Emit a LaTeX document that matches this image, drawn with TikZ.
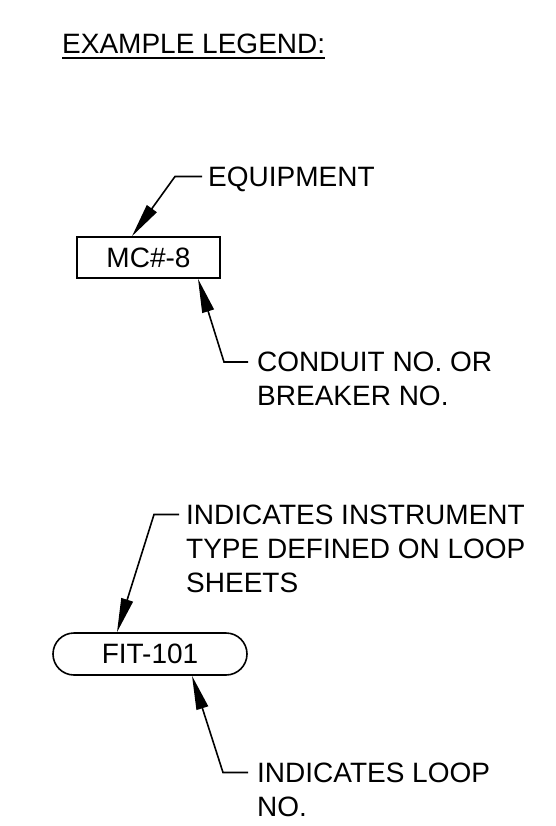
\documentclass[tikz,border=0pt]{standalone}
\usepackage{fontspec}
\setmainfont{Liberation Sans}
\usetikzlibrary{arrows.meta}

\begin{document}
\begin{tikzpicture}[x=1pt, y=-1pt,
    lbl/.style={font=\fontsize{28}{34}\selectfont, inner sep=0pt, anchor=north west, align=left},
    tag/.style={draw, line width=1.6pt, font=\fontsize{28}{34}\selectfont, inner sep=0pt},
    leader/.style={line width=1.6pt, -{Triangle[length=34pt, width=12pt]}}]
    \useasboundingbox (0,0) rectangle (555,826);
    % Title
    \node[lbl] (title) at (62,33.5) {EXAMPLE LEGEND:};
    \draw[line width=2.5pt] ([yshift=-4.5pt]title.south west) -- ([yshift=-4.5pt]title.south east);
    % Equipment tag
    \node[tag, minimum width=143pt, minimum height=41pt] (mc) at (148.5,257.5) {MC\#-8};
    \node[lbl] (equip) at (208,166.5) {EQUIPMENT};
    \node[lbl] (cond) at (257,352) {CONDUIT NO. OR\\BREAKER NO.};
    \draw[leader] ([xshift=-6pt, yshift=-10pt]equip.north west) -- ++(-27,0) -- ([xshift=-16.5pt]mc.north);
    \draw[leader] ([xshift=-9pt, yshift=-10pt]cond.north west) -- ++(-24,0) -- ([xshift=49.5pt]mc.south);
    % Instrument tag
    \node[tag, rounded corners=21pt, minimum width=194pt, minimum height=42pt] (fit) at (150,654) {FIT-101};
    \node[lbl] (inst) at (186,504.5) {INDICATES INSTRUMENT\\TYPE DEFINED ON LOOP\\SHEETS};
    \node[lbl] (loop) at (257,762.5) {INDICATES LOOP\\NO.};
    \draw[leader] ([xshift=-7pt, yshift=-10pt]inst.north west) -- ++(-25,0) -- ([xshift=-33pt]fit.north);
    \draw[leader] ([xshift=-9pt, yshift=-10pt]loop.north west) -- ++(-25,0) -- ([xshift=42pt]fit.south);
\end{tikzpicture}
\end{document}
